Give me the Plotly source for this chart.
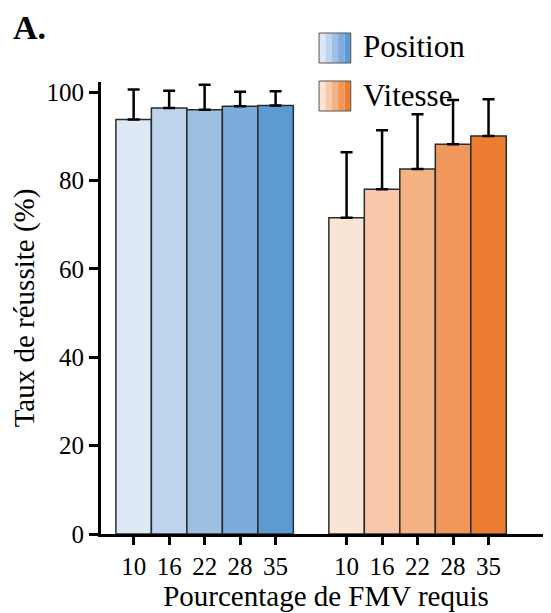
import plotly.graph_objects as go

# ---- data ----
tick_labels = ["10", "16", "22", "28", "35"]
position_vals = [93.8, 96.4, 96.0, 96.8, 97.0]
position_err = [6.8, 3.9, 5.7, 3.3, 3.2]
vitesse_vals = [71.6, 78.0, 82.6, 88.2, 90.1]
vitesse_err = [14.8, 13.4, 12.4, 10.0, 8.3]
position_colors = ["#DDE9F5", "#BDD5EC", "#9DC1E3", "#7DABDA", "#5B9BD2"]
vitesse_colors = ["#FAE4D6", "#F7C9AA", "#F4B183", "#F0975C", "#ED7D31"]

x_pos = [0, 1, 2, 3, 4]
x_vit = [6, 7, 8, 9, 10]

W, H = 551, 613
OFF = 8  # page body offset
ML, MR, MT, MB = 97 - OFF, OFF, 82 - OFF, H - 534 + OFF
PW, PH = W - ML - MR, H - MT - MB

def px(x):
    return (x - OFF - ML) / PW

def py(y):
    return (H - MB - (y - OFF)) / PH

FONT = "Liberation Serif"

fig = go.Figure()
for xs, vals, errs, cols, name in [
    (x_pos, position_vals, position_err, position_colors, "Position"),
    (x_vit, vitesse_vals, vitesse_err, vitesse_colors, "Vitesse"),
]:
    fig.add_trace(go.Bar(
        x=xs, y=vals, width=1, name=name,
        marker=dict(color=cols, line=dict(color="#2b2b2b", width=1.5)),
        error_y=dict(type="data", array=errs, arrayminus=[0] * len(errs),
                     symmetric=False, color="black", thickness=2.5, width=6),
        showlegend=False,
    ))

shapes = []
for cols, y0, y1 in [(position_colors, 33, 63), (vitesse_colors, 81, 111)]:
    x0, x1 = 317, 349
    sw = (x1 - x0) / len(cols)
    for i, c in enumerate(cols):
        shapes.append(dict(type="rect", xref="paper", yref="paper",
                           x0=px(x0 + i * sw), x1=px(x0 + (i + 1) * sw),
                           y0=py(y1), y1=py(y0), fillcolor=c,
                           line=dict(width=0)))
    shapes.append(dict(type="rect", xref="paper", yref="paper",
                       x0=px(x0), x1=px(x1), y0=py(y1), y1=py(y0),
                       fillcolor="rgba(0,0,0,0)",
                       line=dict(color="#555555", width=1)))

annotations = [
    dict(text="Position", xref="paper", yref="paper", x=px(359), y=py(47),
         xanchor="left", yanchor="middle", showarrow=False,
         font=dict(family=FONT, size=31, color="black")),
    dict(text="Vitesse", xref="paper", yref="paper", x=px(359), y=py(95),
         xanchor="left", yanchor="middle", showarrow=False,
         font=dict(family=FONT, size=31, color="black")),
    dict(text="<b>A.</b>", xref="paper", yref="paper", x=px(6), y=py(27),
         xanchor="left", yanchor="middle", showarrow=False,
         font=dict(family=FONT, size=34, color="black")),
]

fig.update_layout(
    width=W, height=H,
    margin=dict(l=ML, r=MR, t=MT, b=MB),
    paper_bgcolor="white", plot_bgcolor="white",
    barmode="overlay",
    font=dict(family=FONT, color="black"),
    shapes=shapes, annotations=annotations,
    xaxis=dict(
        range=[-0.92, 11.76],
        tickvals=x_pos + x_vit, ticktext=tick_labels + tick_labels,
        ticks="outside", ticklen=8, tickwidth=2.5, tickcolor="black",
        showline=True, linecolor="black", linewidth=3,
        showgrid=False, zeroline=False,
        tickfont=dict(family=FONT, size=25, color="black"),
        title=dict(text="Pourcentage de FMV requis", standoff=0,
                   font=dict(family=FONT, size=29, color="black")),
    ),
    yaxis=dict(
        range=[0, 102.3],
        tickvals=[0, 20, 40, 60, 80, 100],
        ticks="outside", ticklen=9, tickwidth=2.5, tickcolor="black",
        showline=True, linecolor="black", linewidth=3,
        showgrid=False, zeroline=False,
        tickfont=dict(family=FONT, size=25, color="black"),
        title=dict(text="Taux de réussite (%)", standoff=10,
                   font=dict(family=FONT, size=29, color="black")),
    ),
)

fig.write_html("out.html")
